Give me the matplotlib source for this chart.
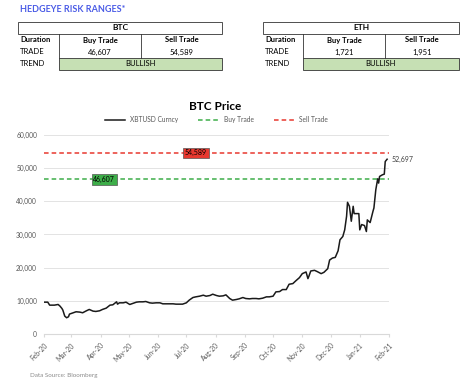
import numpy as np
import pandas as pd
import matplotlib
matplotlib.use("Agg")
from matplotlib import pyplot as plt
from matplotlib import dates as mdates
from matplotlib.patches import Rectangle

plt.rcParams['font.family'] = ['Lato', 'DejaVu Sans']

# risk range tables
btc_range = {"buy": "46,607", "sell": "54,589", "trend": "BULLISH"}
eth_range = {"buy": "1,721", "sell": "1,951", "trend": "BULLISH"}

buy_trade = 46607
sell_trade = 54589

# BTC price
dates = ["2020-02-01", "2020-02-05", "2020-02-07", "2020-02-12", "2020-02-16", "2020-02-18",
         "2020-02-20", "2020-02-21", "2020-02-23", "2020-02-25", "2020-02-27", "2020-02-28",
         "2020-03-03", "2020-03-06", "2020-03-10", "2020-03-13", "2020-03-17", "2020-03-20",
         "2020-03-24", "2020-03-27", "2020-03-31", "2020-04-03", "2020-04-07", "2020-04-11",
         "2020-04-14", "2020-04-18", "2020-04-19", "2020-04-21", "2020-04-25", "2020-04-28",
         "2020-05-02", "2020-05-05", "2020-05-09", "2020-05-12", "2020-05-16", "2020-05-19",
         "2020-05-23", "2020-05-26", "2020-05-30", "2020-06-03", "2020-06-06", "2020-06-10",
         "2020-06-13", "2020-06-17", "2020-06-20", "2020-06-24", "2020-06-27", "2020-07-01",
         "2020-07-04", "2020-07-08", "2020-07-11", "2020-07-15", "2020-07-19", "2020-07-22",
         "2020-07-26", "2020-07-29", "2020-08-02", "2020-08-05", "2020-08-09", "2020-08-12",
         "2020-08-16", "2020-08-19", "2020-08-23", "2020-08-26", "2020-08-30", "2020-09-02",
         "2020-09-06", "2020-09-09", "2020-09-13", "2020-09-16", "2020-09-20", "2020-09-24",
         "2020-09-27", "2020-10-01", "2020-10-04", "2020-10-08", "2020-10-11", "2020-10-15",
         "2020-10-18", "2020-10-22", "2020-10-25", "2020-10-29", "2020-11-01", "2020-11-05",
         "2020-11-07", "2020-11-08", "2020-11-10", "2020-11-14", "2020-11-17", "2020-11-21",
         "2020-11-24", "2020-11-28", "2020-11-30", "2020-12-03", "2020-12-06", "2020-12-09",
         "2020-12-11", "2020-12-14", "2020-12-16", "2020-12-18", "2020-12-19", "2020-12-21",
         "2020-12-23", "2020-12-25", "2020-12-26", "2020-12-29", "2020-12-31", "2021-01-01",
         "2021-01-03", "2021-01-06", "2021-01-08", "2021-01-09", "2021-01-12", "2021-01-15",
         "2021-01-16", "2021-01-18", "2021-01-20", "2021-01-21", "2021-01-22", "2021-01-25",
         "2021-01-27", "2021-01-28", "2021-01-30"]
prices = [9600, 9600, 8700, 8700, 8900, 8400,
          7700, 7200, 5400, 4900, 5200, 6000,
          6400, 6700, 6600, 6400, 7000, 7400,
          6900, 6800, 7000, 7400, 7800, 8700,
          8800, 9700, 9000, 9400, 9400, 9600,
          8900, 9200, 9600, 9700, 9700, 9800,
          9400, 9300, 9400, 9400, 9100, 9100,
          9100, 9100, 9000, 9000, 9000, 9400,
          10200, 11000, 11200, 11400, 11700, 11400,
          11600, 12000, 11600, 11400, 11500, 11800,
          10700, 10200, 10400, 10600, 11000, 10700,
          10600, 10700, 10700, 10600, 10800, 11200,
          11200, 11400, 12700, 12800, 13400, 13400,
          15000, 15200, 16000, 17000, 18200, 18700,
          16700, 17400, 19000, 19200, 18800, 18200,
          18600, 19700, 22300, 22900, 23100, 25100,
          28400, 29400, 31400, 35500, 39700, 38500,
          34000, 38500, 36300, 36300, 36300, 31400,
          33000, 32700, 30900, 34400, 33600, 37000,
          38000, 43500, 46800, 45500, 47500, 48000,
          48200, 52000, 52697]

gray = "#595959"

fig = plt.figure(figsize=(4.76, 3.87), dpi=100)

# pixel-coordinate overlay for the tables
bg = fig.add_axes([0, 0, 1, 1])
bg.set_xlim(0, 476)
bg.set_ylim(387, 0)
bg.axis("off")

bg.text(20, 10, "HEDGEYE RISK RANGES*", color="#4b5ce6", fontsize=6.5,
        fontweight="bold", va="center", ha="left")


def risk_table(x0, x1, x2, x3, name, rng):
    lw = 0.6
    bg.add_patch(Rectangle((x0, 22), x3 - x0, 12, fill=False, lw=lw, ec="#333333"))
    for xv in (x1, x2):
        bg.plot([xv, xv], [34, 58], color="#333333", lw=lw)
    bg.add_patch(Rectangle((x1, 58), x3 - x1, 12, fc="#c6e0b4", lw=lw, ec="#333333"))
    bg.text((x0 + x3) / 2, 28, name, fontsize=6, fontweight="bold", ha="center", va="center")
    bg.text(x0 + 2, 40, "Duration", fontsize=5.5, fontweight="bold", va="center")
    bg.text((x1 + x2) / 2, 40, "Buy Trade", fontsize=5.5, fontweight="bold", ha="center", va="center")
    bg.text((x2 + x3) / 2, 40, "Sell Trade", fontsize=5.5, fontweight="bold", ha="center", va="center")
    bg.text(x0 + 2, 52, "TRADE", fontsize=5.5, va="center")
    bg.text((x1 + x2) / 2, 52, rng["buy"], fontsize=5.5, ha="center", va="center")
    bg.text((x2 + x3) / 2, 52, rng["sell"], fontsize=5.5, ha="center", va="center")
    bg.text(x0 + 2, 64, "TREND", fontsize=5.5, va="center")
    bg.text((x1 + x3) / 2, 64, rng["trend"], fontsize=5.5, ha="center", va="center")


risk_table(18, 59, 141, 222, "BTC", btc_range)
risk_table(263, 303, 385, 459, "ETH", eth_range)

bg.text(215, 106, "BTC Price", fontsize=8.5, fontweight="bold", ha="center", va="center")
bg.text(30, 376, "Data Source: Bloomberg", fontsize=4.5, color="#8c8c8c", va="center")

# price chart
ax = fig.add_axes([44 / 476, (387 - 334) / 387, (389 - 44) / 476, (334 - 135) / 387])
x = pd.to_datetime(dates)
ax.plot(x, prices, color="#1a1a1a", lw=1.1, label="XBTUSD Curncy", zorder=3)
ax.axhline(buy_trade, color="#3dae49", lw=1.1, ls=(0, (3, 2)), label="Buy Trade", zorder=2)
ax.axhline(sell_trade, color="#e8382f", lw=1.1, ls=(0, (3, 2)), label="Sell Trade", zorder=2)

ax.set_xlim(pd.Timestamp("2020-02-01"), pd.Timestamp("2021-02-01"))
ax.set_ylim(0, 60000)
ax.set_yticks(np.arange(0, 60001, 10000))
ax.yaxis.set_major_formatter(matplotlib.ticker.FuncFormatter(lambda v, p: f"{int(v):,}"))
ax.xaxis.set_major_locator(mdates.MonthLocator())
ax.xaxis.set_major_formatter(mdates.DateFormatter("%b-%y"))
ax.grid(axis="y", color="#e3e3e3", lw=0.7)
ax.set_axisbelow(True)
for s in ("top", "right", "left"):
    ax.spines[s].set_visible(False)
ax.spines["bottom"].set_color("#d9d9d9")
ax.tick_params(axis="y", length=0, labelsize=4.8, labelcolor=gray, pad=5)
ax.tick_params(axis="x", length=2, color="#d9d9d9", labelsize=4.8, labelcolor=gray)
plt.setp(ax.get_xticklabels(), rotation=45, ha="right", rotation_mode="anchor")

ax.text(pd.Timestamp("2020-04-05"), buy_trade, f"{buy_trade:,}", fontsize=5, ha="center", va="center",
        bbox=dict(boxstyle="square,pad=0.25", fc="#3dae49", ec="#555555", lw=0.5), zorder=4)
ax.text(pd.Timestamp("2020-07-11"), sell_trade, f"{sell_trade:,}", fontsize=5, ha="center", va="center",
        bbox=dict(boxstyle="square,pad=0.25", fc="#e8382f", ec="#555555", lw=0.5), zorder=4)
ax.annotate(f"{prices[-1]:,}", (x[-1], prices[-1]), xytext=(3, 0), textcoords="offset points",
            fontsize=5, color="#404040", va="center", annotation_clip=False)

ax.legend(loc="lower center", bbox_to_anchor=(0.5, 1.03), ncol=3, frameon=False, fontsize=4.8,
          handlelength=3, columnspacing=3, labelcolor=gray)

fig.savefig("out.png", dpi=100)
